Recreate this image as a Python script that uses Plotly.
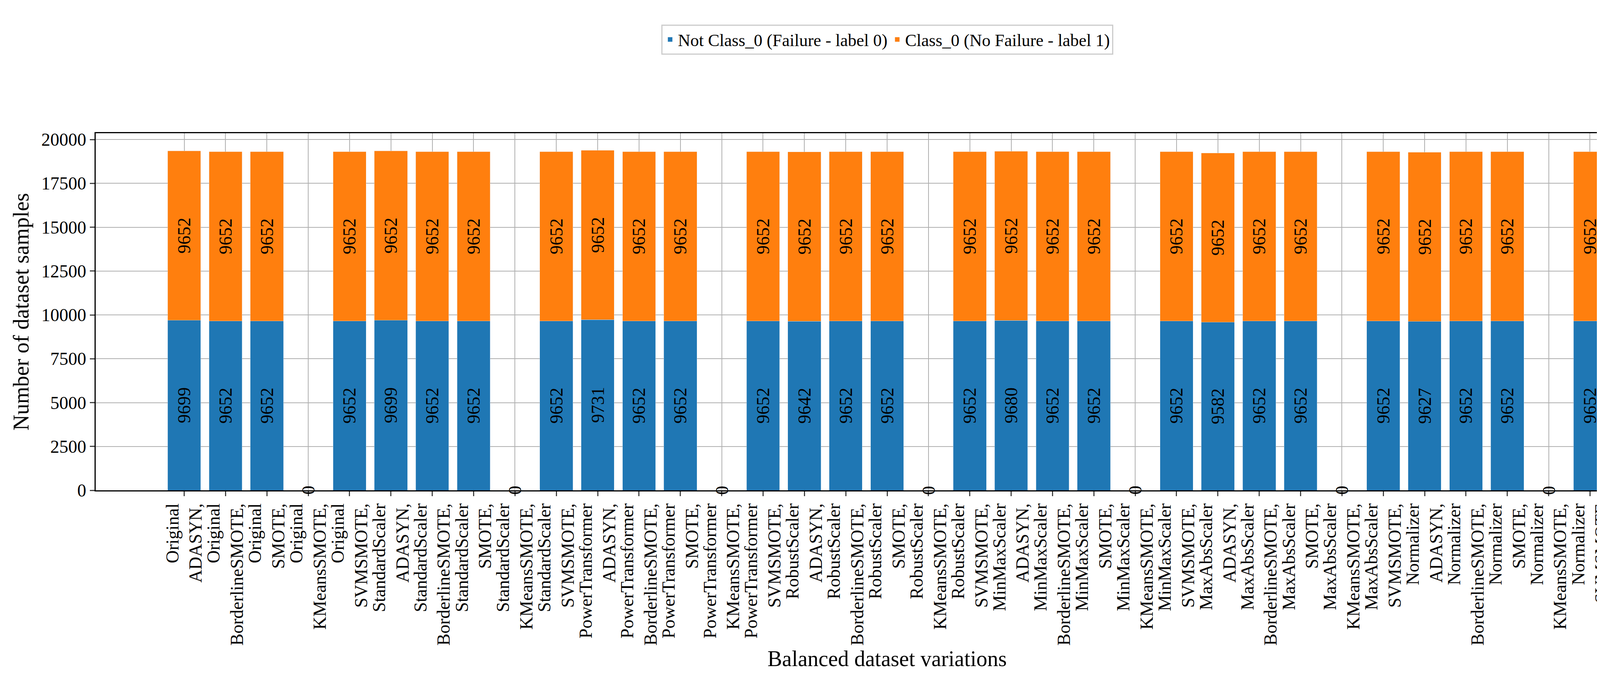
import plotly.graph_objects as go

# scalers x balancing methods
scalers = ['Original', 'StandardScaler', 'PowerTransformer', 'RobustScaler',
           'MinMaxScaler', 'MaxAbsScaler', 'Normalizer']
balancers = ['ADASYN,', 'BorderlineSMOTE,', 'SMOTE,', 'KMeansSMOTE,', 'SVMSMOTE,']

labels = [s + '<br>' + b for s in scalers for b in balancers]
labels[-1] = 'Normalizer<br>SVMSMOTE'

failure = [9699, 9652, 9652, 0, 9652,
           9699, 9652, 9652, 0, 9652,
           9731, 9652, 9652, 0, 9652,
           9642, 9652, 9652, 0, 9652,
           9680, 9652, 9652, 0, 9652,
           9582, 9652, 9652, 0, 9652,
           9627, 9652, 9652, 0, 9652]
no_failure = [9652, 9652, 9652, 0, 9652] * 7

FONT = 'Liberation Serif'

fig = go.Figure()
fig.add_trace(go.Bar(x=labels, y=failure, name='Not Class_0 (Failure - label 0)',
                     marker_color='#1f77b4', width=0.8,
                     text=[str(v) if v else '' for v in failure],
                     textposition='inside', insidetextanchor='middle', textangle=-90,
                     textfont=dict(family=FONT, size=46, color='black')))
fig.add_trace(go.Bar(x=labels, y=no_failure, name='Class_0 (No Failure - label 1)',
                     marker_color='#ff7f0e', width=0.8,
                     text=[str(v) if v else '' for v in no_failure],
                     textposition='inside', insidetextanchor='middle', textangle=-90,
                     textfont=dict(family=FONT, size=46, color='black')))

# zero-height bars still get their "0" label in the original
for lab, v in zip(labels, failure):
    if v == 0:
        fig.add_annotation(x=lab, y=0, text='0', showarrow=False, textangle=-90,
                           font=dict(family=FONT, size=46, color='black'),
                           xanchor='center', yanchor='middle')

fig.update_layout(
    barmode='stack', width=4325, height=1738,
    plot_bgcolor='white', paper_bgcolor='white',
    font=dict(family=FONT, size=46, color='black'),
    margin=dict(l=237, r=36, t=333, b=491, autoexpand=False),
    legend=dict(orientation='h', x=0.5, xanchor='center', y=1.22, yanchor='bottom',
                bordercolor='#cccccc', borderwidth=3, font=dict(size=44),
                traceorder='normal'),
    showlegend=True,
)
fig.update_xaxes(title_text='Balanced dataset variations', title_font=dict(size=56),
                 tickangle=-90, range=[-2.14, 36.14], showgrid=True, gridcolor='#b0b0b0',
                 gridwidth=2, showline=True, linecolor='black', linewidth=3, mirror=True,
                 ticks='outside', ticklen=12, tickwidth=3, tickfont=dict(size=46),
                 automargin=False)
fig.update_yaxes(title_text='Number of dataset samples', title_font=dict(size=56),
                 range=[0, 20360], dtick=2500, tickformat='d', showgrid=True,
                 gridcolor='#b0b0b0', gridwidth=2, showline=True, linecolor='black',
                 linewidth=3, mirror=True, ticks='outside', ticklen=12, tickwidth=3,
                 tickfont=dict(size=46), zeroline=False, automargin=False)

fig.write_html('out.html')
